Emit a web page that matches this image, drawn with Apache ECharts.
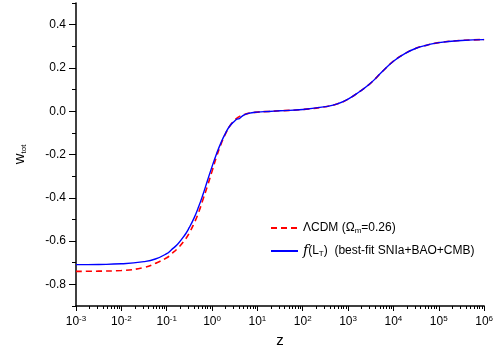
<!DOCTYPE html>
<html>
<head>
<meta charset="utf-8">
<script src="https://cdn.jsdelivr.net/npm/echarts@6/dist/echarts.min.js"></script>
<style>
  html, body { margin: 0; padding: 0; background: #fff; }
  #chart { width: 496px; height: 358px; }
</style>
</head>
<body>
<div id="chart"></div>
<script>
// redshift samples
const zValues = [
  0.001, 0.00316, 0.01, 0.0316, 0.0562, 0.1, 0.126, 0.178, 0.251, 0.316,
  0.398, 0.501, 0.631, 0.794, 1, 1.26, 1.58, 2.0, 2.51, 3.16,
  3.55, 3.98, 5.01, 6.31, 10, 17.8, 31.6, 100, 316, 562,
  1000, 1778, 3162, 5623, 10000, 17783, 31623, 56234, 100000, 316228,
  1000000
];

// LambdaCDM (Omega_m = 0.26)
const wLCDM = [
  -0.740, -0.739, -0.736, -0.722, -0.703, -0.677, -0.660, -0.632, -0.595, -0.562,
  -0.520, -0.470, -0.408, -0.345, -0.277, -0.210, -0.152, -0.103, -0.066, -0.041,
  -0.032, -0.025, -0.016, -0.010, -0.004, -0.001, 0.002, 0.008, 0.021, 0.033,
  0.056, 0.090, 0.130, 0.182, 0.231, 0.266, 0.291, 0.306, 0.317, 0.327,
  0.331
];

// f(L_T) best fit
const wFLT = [
  -0.709, -0.708, -0.705, -0.695, -0.683, -0.658, -0.641, -0.612, -0.572, -0.537,
  -0.495, -0.444, -0.385, -0.320, -0.256, -0.196, -0.145, -0.100, -0.066, -0.045,
  -0.037, -0.034, -0.018, -0.010, -0.004, -0.001, 0.002, 0.008, 0.021, 0.033,
  0.056, 0.090, 0.130, 0.182, 0.231, 0.266, 0.291, 0.306, 0.317, 0.327,
  0.331
];

const yMajorTicks = [-0.8, -0.6, -0.4, -0.2, 0.0, 0.2, 0.4];
const yMinorTicks = [-0.9, -0.7, -0.5, -0.3, -0.1, 0.1, 0.3, 0.5];
const xDecades = [1e-3, 1e-2, 1e-1, 1, 1e1, 1e2, 1e3, 1e4, 1e5, 1e6];
const xMinorTicks = [];
xDecades.slice(0, -1).forEach((d) => {
  for (let k = 2; k <= 9; k++) xMinorTicks.push(d * k);
});

const font = "'Liberation Sans', Arial, sans-serif";
const chart = echarts.init(document.getElementById("chart"), null, { renderer: "canvas" });

chart.setOption({
  animation: false,
  backgroundColor: "#fff",
  textStyle: { fontFamily: font, color: "#000" },
  grid: { left: 76, right: 8, top: 3, bottom: 52 },
  legend: {
    orient: "vertical",
    left: 265,
    top: 217,
    itemWidth: 27,
    itemHeight: 14,
    itemGap: 9,
    itemStyle: { opacity: 0 },
    data: ["lcdm", "flt"],
    formatter: (name) => name === "lcdm"
      ? "{t|\u039BCDM (\u03A9}{s|m}{t|=0.26)}"
      : "{f|f}{t|(L}{s|T}{t|)  (best-fit SNIa+BAO+CMB)}",
    textStyle: {
      fontFamily: font,
      color: "#000",
      rich: {
        t: { fontSize: 12, fontFamily: font, color: "#000", lineHeight: 14 },
        s: { fontSize: 8, fontFamily: font, color: "#000", verticalAlign: "bottom", lineHeight: 8 },
        f: { fontSize: 14, fontFamily: "'DejaVu Serif', serif", fontStyle: "italic", color: "#000", lineHeight: 14 }
      }
    }
  },
  xAxis: [
    {
      type: "log",
      logBase: 10,
      min: 0.001,
      max: 1000000,
      name: "z",
      nameLocation: "middle",
      nameGap: 27,
      nameTextStyle: { fontSize: 15, fontFamily: font, color: "#000" },
      axisLine: { show: true, onZero: false, lineStyle: { color: "#000", width: 1.5 } },
      axisTick: { show: true, length: 5, lineStyle: { color: "#000", width: 1 } },
      splitLine: { show: false },
      axisLabel: {
        margin: 9,
        formatter: (v) => "{b|10}{e|" + Math.round(Math.log10(v)) + "}",
        rich: {
          b: { fontSize: 12, fontFamily: font, color: "#000", lineHeight: 14 },
          e: { fontSize: 8, fontFamily: font, color: "#000", verticalAlign: "top", lineHeight: 8 }
        }
      }
    },
    {
      type: "log",
      logBase: 10,
      min: 0.001,
      max: 1000000,
      position: "bottom",
      axisLine: { show: false, onZero: false },
      axisTick: { show: true, length: 3, customValues: xMinorTicks, lineStyle: { color: "#000", width: 1 } },
      axisLabel: { show: false },
      splitLine: { show: false }
    }
  ],
  yAxis: [
    {
      type: "value",
      min: -0.9,
      max: 0.5,
      name: "{w|w}{s|tot}",
      nameLocation: "middle",
      nameGap: 48,
      nameRotate: 90,
      nameTextStyle: {
        rich: {
          w: { fontSize: 15, fontFamily: font, color: "#000", lineHeight: 16 },
          s: { fontSize: 8, fontFamily: font, color: "#000", verticalAlign: "bottom", lineHeight: 8 }
        }
      },
      axisLine: { show: true, onZero: false, lineStyle: { color: "#000", width: 1.5 } },
      axisTick: { show: true, length: 7, customValues: yMajorTicks, lineStyle: { color: "#000", width: 1 } },
      axisLabel: {
        customValues: yMajorTicks,
        margin: 10,
        fontSize: 12,
        fontFamily: font,
        color: "#000",
        formatter: (v) => v.toFixed(1)
      },
      splitLine: { show: false }
    },
    {
      type: "value",
      min: -0.9,
      max: 0.5,
      position: "left",
      axisLine: { show: false, onZero: false },
      axisTick: { show: true, length: 4, customValues: yMinorTicks, lineStyle: { color: "#000", width: 1 } },
      axisLabel: { show: false },
      splitLine: { show: false }
    }
  ],
  series: [
    {
      name: "lcdm",
      type: "line",
      symbol: "none",
      smooth: 0.5,
      lineStyle: { color: "#ff0000", width: 1.6, type: [6, 4] },
      itemStyle: { color: "#ff0000" },
      z: 2,
      data: zValues.map((z, i) => [z, wLCDM[i]])
    },
    {
      name: "flt",
      type: "line",
      symbol: "none",
      smooth: 0.5,
      lineStyle: { color: "#0000ff", width: 1.4 },
      itemStyle: { color: "#0000ff" },
      z: 3,
      data: zValues.map((z, i) => [z, wFLT[i]])
    }
  ]
});
</script>
</body>
</html>
